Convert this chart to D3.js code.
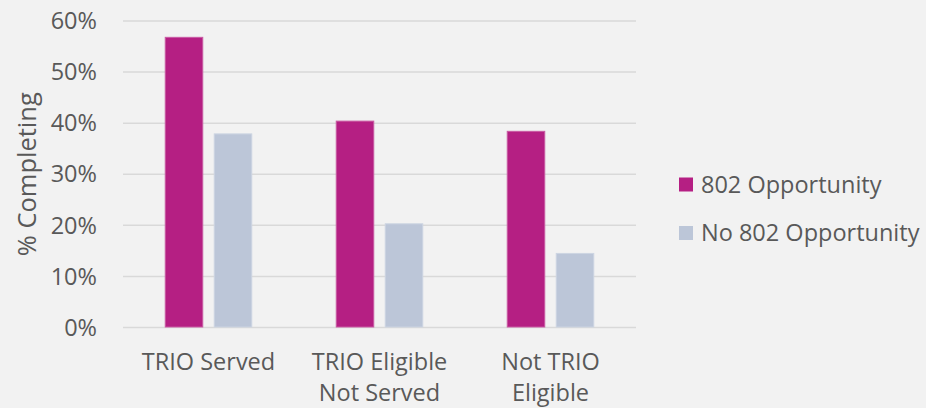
<!DOCTYPE html>
<html>
<head>
<meta charset="utf-8">
<script src="https://cdn.jsdelivr.net/npm/d3@7"></script>
<style>
  body { margin: 0; background: #f2f2f2; }
  svg { display: block; font-family: "Open Sans", sans-serif; }
</style>
</head>
<body>
<svg id="chart" width="926" height="408"></svg>
<script>
// chart values
var categories = [["TRIO Served"], ["TRIO Eligible", "Not Served"], ["Not TRIO", "Eligible"]];
var seriesNames = ["802 Opportunity", "No 802 Opportunity"];
var opportunity = [56.9, 40.5, 38.5];
var noOpportunity = [38.0, 20.4, 14.6];
var yTicks = [0, 10, 20, 30, 40, 50, 60];
var colors = ["#b51f83", "#bcc6d8"];
var strokes = ["#c95aa3", "#cdd5e2"];

var svg = d3.select("#chart");
var plotLeft = 123, plotRight = 636, plotTop = 21, plotBottom = 327.5;
var fontSize = 23.5;

var x0 = d3.scaleBand().domain(d3.range(categories.length)).range([plotLeft, plotRight]);
var x1 = d3.scaleBand().domain(d3.range(seriesNames.length))
    .range([0, x0.bandwidth()]).paddingInner(0.214).paddingOuter(0.852);
var y = d3.scaleLinear().domain([0, 60]).range([plotBottom, plotTop]);

// gridlines
svg.append("g").selectAll("line").data(yTicks).enter().append("line")
    .attr("x1", plotLeft).attr("x2", plotRight)
    .attr("y1", function(d) { return y(d); })
    .attr("y2", function(d) { return y(d); })
    .attr("stroke", "#d9d9d9").attr("stroke-width", 1.5);

// y tick labels
svg.append("g").selectAll("text").data(yTicks).enter().append("text")
    .attr("x", 97).attr("y", function(d) { return y(d); })
    .attr("dy", "0.35em").attr("text-anchor", "end")
    .attr("font-size", fontSize).attr("fill", "#595959")
    .text(function(d) { return d + "%"; });

// bars
var values = [opportunity, noOpportunity];
values.forEach(function(vals, s) {
    svg.append("g").selectAll("rect").data(vals).enter().append("rect")
        .attr("x", function(d, i) { return x0(i) + x1(s) + 0.5; })
        .attr("y", function(d) { return y(d) + 0.5; })
        .attr("width", x1.bandwidth() - 1)
        .attr("height", function(d) { return plotBottom - y(d) - 1; })
        .attr("fill", colors[s])
        .attr("stroke", strokes[s]).attr("stroke-width", 1);
});

// category labels
var cat = svg.append("g").selectAll("text").data(categories).enter().append("text")
    .attr("text-anchor", "middle").attr("font-size", fontSize).attr("fill", "#595959")
    .attr("transform", function(d, i) { return "translate(" + (x0(i) + x0.bandwidth() / 2) + ",370)"; });
cat.selectAll("tspan").data(function(d) { return d; }).enter().append("tspan")
    .attr("x", 0).attr("dy", function(d, j) { return j ? 31 : 0; })
    .text(function(d) { return d; });

// y axis title
svg.append("text")
    .attr("transform", "translate(36," + ((plotTop + plotBottom) / 2) + ") rotate(-90)")
    .attr("text-anchor", "middle").attr("font-size", 25.5).attr("fill", "#595959")
    .text("% Completing");

// legend
var legend = svg.append("g").selectAll("g").data(seriesNames).enter().append("g")
    .attr("transform", function(d, i) { return "translate(679," + (184.5 + i * 48.5) + ")"; });
legend.append("rect").attr("x", 0).attr("y", -7).attr("width", 14).attr("height", 14)
    .attr("fill", function(d, i) { return colors[i]; });
legend.append("text").attr("x", 22).attr("dy", "0.35em")
    .attr("font-size", fontSize).attr("fill", "#595959")
    .text(function(d) { return d; });
</script>
</body>
</html>
